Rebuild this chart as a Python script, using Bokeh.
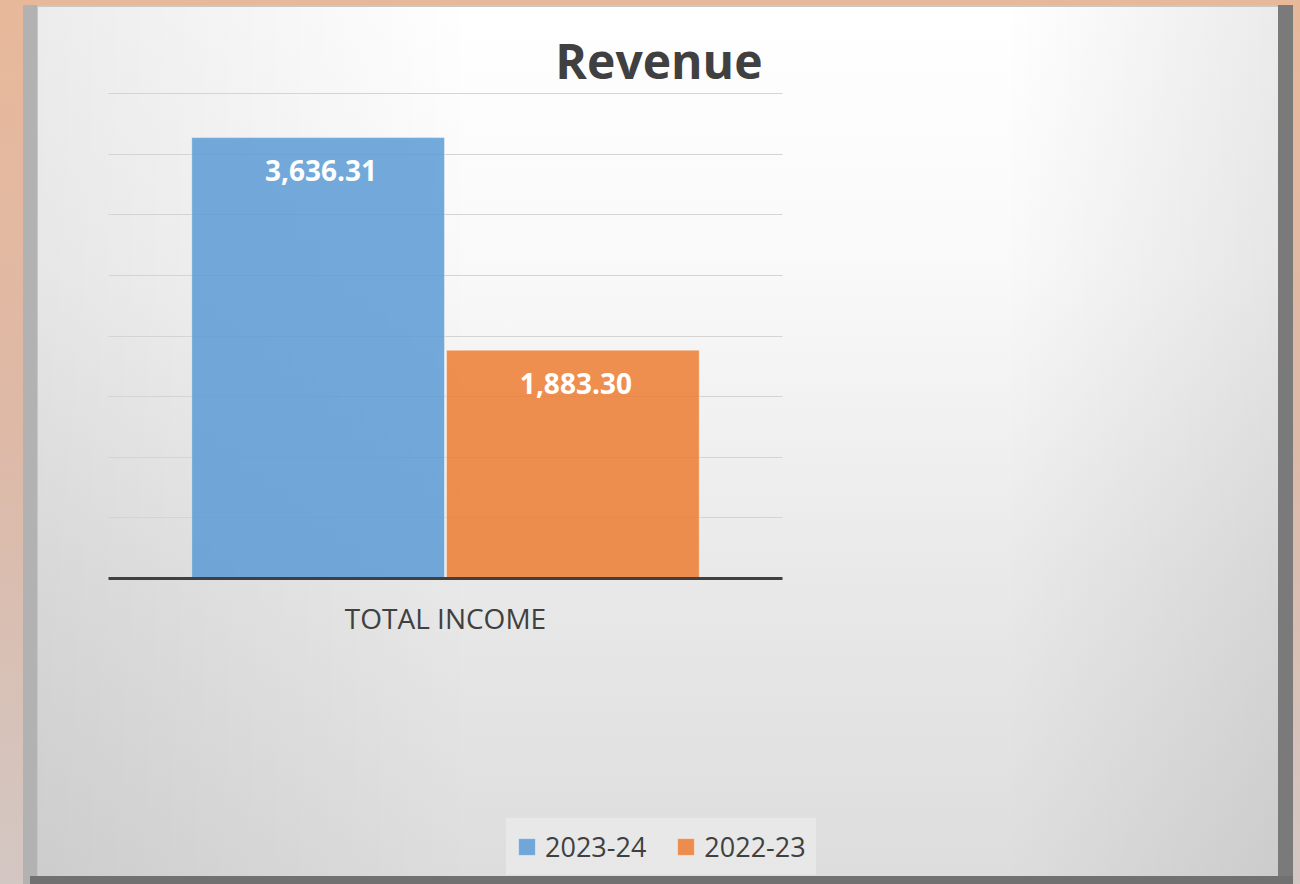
from bokeh.plotting import figure
from bokeh.models import (ColumnDataSource, FactorRange, Range1d, Legend, LegendItem,
                          FixedTicker, Grid)
from bokeh.transform import dodge
from bokeh.core.properties import value
from bokeh.embed import file_html
from bokeh.resources import INLINE

# ---- data ----
categories = ["TOTAL INCOME"]
series_names = ["2023-24", "2022-23"]
values_2023_24 = [3636.31]
values_2022_23 = [1883.30]
y_ticks = [0, 500, 1000, 1500, 2000, 2500, 3000, 3500, 4000]
title_text = "Revenue"

# ---- layout constants (pixels) ----
W, H = 1300, 884
PLOT_L, PLOT_R = 108, 782        # extent of the category band
PLOT_T, PLOT_B = 93, 578         # top gridline / baseline
FRAME_L, FRAME_R = 0, 890        # frame symmetric about the category centre
FRAME_T = PLOT_T - 1
FONT = "Open Sans"
TXT = "#404040"

px_per_unit = (PLOT_B - PLOT_T) / y_ticks[-1]
y_start = -(H - PLOT_B) / px_per_unit
y_end = y_ticks[-1] + (PLOT_T - FRAME_T) / px_per_unit
pad = (FRAME_R - FRAME_L) / (PLOT_R - PLOT_L) - 1

src = ColumnDataSource(dict(
    cat=categories,
    v1=values_2023_24,
    v2=values_2022_23,
    l1=[f"{v:,.2f}" for v in values_2023_24],
    l2=[f"{v:,.2f}" for v in values_2022_23],
))

p = figure(width=W, height=H, output_backend="svg", toolbar_location=None,
           x_range=FactorRange(factors=categories, range_padding=pad,
                               range_padding_units="percent"),
           y_range=Range1d(y_start, y_end),
           y_axis_location=None,
           min_border_left=FRAME_L, min_border_right=W - FRAME_R,
           min_border_top=FRAME_T, min_border_bottom=0)

p.border_fill_alpha = 0
p.background_fill_alpha = 0
p.outline_line_color = None

# ---- framed, shaded panel behind the (transparent) canvas ----
p.styles = {
    "background": ", ".join([
        "linear-gradient(#717171,#717171) 30px 876px / 1263px 8px no-repeat",
        "linear-gradient(#7a7a7a,#7a7a7a) 1278px 5px / 15px 879px no-repeat",
        "linear-gradient(to right,#b2b2b2 0,#b2b2b2 14px,#c6c6c6 14px,#c6c6c6 15px) 23px 5px / 15px 879px no-repeat",
        "linear-gradient(#c8c8c8,#c8c8c8) 23px 5px / 1270px 2px no-repeat",
        "linear-gradient(to right, rgba(0,0,0,0.075) 0%, rgba(0,0,0,0) 35%, rgba(0,0,0,0) 78%, rgba(0,0,0,0.08) 100%) 38px 7px / 1240px 869px no-repeat",
        "linear-gradient(to bottom, #ffffff 0%, #f9f9f9 30%, #e9e9e9 65%, #dddddd 100%) 38px 7px / 1240px 869px no-repeat",
        "linear-gradient(to bottom, #e8b89a 0%, #ddb9a7 50%, #d3c7c3 100%)",
    ])
}

# ---- grid only across the category band ----
for g in list(p.grid):
    g.visible = False
grid = Grid(dimension=1, ticker=FixedTicker(ticks=y_ticks), cross_bounds=(0, 1),
            grid_line_color="#d4d4d4", grid_line_width=1)
p.add_layout(grid)

w = 0.375
off = 0.189
r1 = p.vbar(x=dodge("cat", -off, range=p.x_range), top="v1", width=w, source=src,
            fill_color="#5B9BD5", fill_alpha=0.85, line_color="#ffffff", line_alpha=0.4)
r2 = p.vbar(x=dodge("cat", off, range=p.x_range), top="v2", width=w, source=src,
            fill_color="#ED7D31", fill_alpha=0.85, line_color="#ffffff", line_alpha=0.4)

for col, lab, o in (("v1", "l1", -off), ("v2", "l2", off)):
    p.text(x=dodge("cat", o, range=p.x_range), y=col, text=lab, source=src,
           text_align="center", text_baseline="middle", y_offset=33, x_offset=3,
           text_font=value(FONT), text_font_style="bold", text_font_size="28px",
           text_color="#ffffff")

ax = p.xaxis[0]
ax.fixed_location = 0
ax.bounds = (0, 1)
ax.axis_line_color = TXT
ax.axis_line_width = 3
ax.major_tick_line_color = None
ax.minor_tick_line_color = None
ax.major_label_text_font = FONT
ax.major_label_text_font_size = "28px"
ax.major_label_text_color = TXT
ax.major_label_standoff = 14

p.title.text = title_text
p.title.align = "right"
p.title.offset = FRAME_R - 762
p.title.standoff = 0
p.title.text_font = FONT
p.title.text_font_size = "48px"
p.title.text_font_style = "bold"
p.title.text_color = TXT

legend = Legend(items=[LegendItem(label=series_names[0], renderers=[r1]),
                       LegendItem(label=series_names[1], renderers=[r2])],
                orientation="horizontal", location=(506 - FRAME_L, H - 875),
                glyph_width=21, glyph_height=21, label_standoff=8, spacing=29,
                padding=10, margin=0,
                label_text_font=FONT, label_text_font_size="27px", label_text_color=TXT,
                background_fill_color="#ffffff", background_fill_alpha=0.3,
                border_line_alpha=0)
p.add_layout(legend, "center")

open("out.html", "w").write(file_html(p, INLINE))
